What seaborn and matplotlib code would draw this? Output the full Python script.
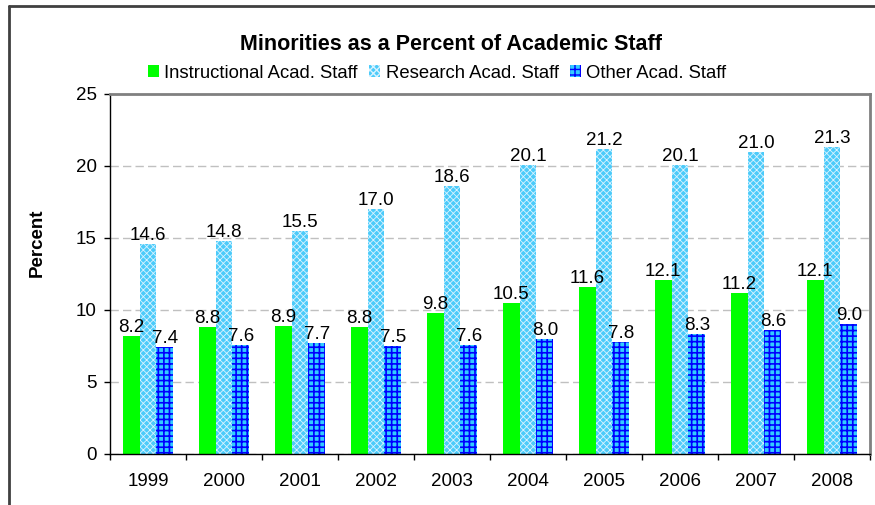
import numpy as np
import pandas as pd
import matplotlib
matplotlib.use("Agg")
import matplotlib.pyplot as plt
from matplotlib.patches import Patch
from matplotlib.lines import Line2D
import seaborn as sns

years = ["1999", "2000", "2001", "2002", "2003", "2004", "2005", "2006", "2007", "2008"]
series_names = ["Instructional Acad. Staff", "Research Acad. Staff", "Other Acad. Staff"]
instructional = [8.2, 8.8, 8.9, 8.8, 9.8, 10.5, 11.6, 12.1, 11.2, 12.1]
research = [14.6, 14.8, 15.5, 17.0, 18.6, 20.1, 21.2, 20.1, 21.0, 21.3]
other = [7.4, 7.6, 7.7, 7.5, 7.6, 8.0, 7.8, 8.3, 8.6, 9.0]
yticks = [0, 5, 10, 15, 20, 25]

sns.set_theme(style="white")
plt.rcParams["font.family"] = ["Liberation Sans", "DejaVu Sans"]
plt.rcParams["text.color"] = "black"
plt.rcParams["axes.labelcolor"] = "black"
plt.rcParams["xtick.color"] = "black"
plt.rcParams["ytick.color"] = "black"

df = pd.DataFrame({
    "Year": years * 3,
    "Series": [series_names[0]] * 10 + [series_names[1]] * 10 + [series_names[2]] * 10,
    "Percent": instructional + research + other,
})

styles = {
    series_names[0]: dict(face="#00FF00", hatch=None, hcolor="#00FF00", hlw=1.0),
    series_names[1]: dict(face="#4CCBFA", hatch="xxxxx", hcolor="#D8F3FF", hlw=0.6),
    series_names[2]: dict(face="#33CCFF", hatch="+++", hcolor="#0000FF", hlw=1.2),
}

fig = plt.figure(figsize=(8.75, 5.05), dpi=100)
ax = fig.add_axes([110 / 875, 1 - 454 / 505, 760 / 875, 360 / 505])

sns.barplot(data=df, x="Year", y="Percent", hue="Series", order=years,
            hue_order=series_names,
            palette={k: v["face"] for k, v in styles.items()},
            width=0.67, gap=0, saturation=1, legend=False, ax=ax, zorder=2)

for cont, name in zip(ax.containers, series_names):
    st = styles[name]
    for bar in cont:
        bar.set_facecolor(st["face"])
        bar.set_linewidth(0)
        if st["hatch"]:
            bar.set_edgecolor(st["hcolor"])
            bar.set_hatch(st["hatch"])
            if hasattr(bar, "set_hatch_linewidth"):
                bar.set_hatch_linewidth(st["hlw"])
    ax.bar_label(cont, fmt="%.1f", padding=0, fontsize=13.5, color="black", zorder=5)

ax.set_ylim(0, 25)
ax.set_xlim(-0.5, 9.5)
ax.set_yticks(yticks)
ax.set_yticklabels([str(v) for v in yticks], fontsize=13.5)
ax.set_xticks(range(len(years)))
ax.set_xticklabels(years, fontsize=13.5)
ax.set_xticks(np.arange(-0.5, 10, 1), minor=True)
ax.tick_params(axis="x", which="major", length=0, pad=14)
ax.tick_params(axis="x", which="minor", length=4.5, width=1, color="black", direction="out", bottom=True)
ax.tick_params(axis="y", which="major", length=4.5, width=1, color="black", direction="out", left=True, pad=5)
ax.set_xlabel("")
ax.set_ylabel("Percent", fontsize=13.5, fontweight="bold", color="black")
ax.yaxis.label.set_verticalalignment("center")
ax.yaxis.set_label_coords(-0.096, 0.586)

ax.set_axisbelow(True)
ax.yaxis.grid(True, linestyle=(0, (6, 3)), color="#C0C0C0", linewidth=1)
ax.xaxis.grid(False)
for side in ["left", "bottom"]:
    ax.spines[side].set_color("black")
    ax.spines[side].set_linewidth(1)
for side in ["top", "right"]:
    ax.spines[side].set_color("#808080")
    ax.spines[side].set_linewidth(2)

fig.text(451 / 875, 1 - 44 / 505, "Minorities as a Percent of Academic Staff",
         ha="center", va="center", fontsize=15.5, fontweight="bold", color="black")

handles = []
for name in series_names:
    st = styles[name]
    p = Patch(facecolor=st["face"], edgecolor=st["hcolor"] if st["hatch"] else st["face"],
              hatch=st["hatch"], linewidth=0)
    handles.append(p)
fig.legend(handles, series_names, loc="center", bbox_to_anchor=(437 / 875, 1 - 73 / 505),
           ncol=3, frameon=False, fontsize=13.3, handlelength=0.6, handleheight=0.6,
           handletextpad=0.3, columnspacing=0.6, borderaxespad=0)

# outer chart border
fig.add_artist(Line2D([9 / 875, 9 / 875], [0, 1 - 6 / 505], transform=fig.transFigure,
                      color="#404040", linewidth=2))
fig.add_artist(Line2D([9 / 875, 1], [1 - 6 / 505, 1 - 6 / 505], transform=fig.transFigure,
                      color="#404040", linewidth=2))

fig.savefig("out.png", dpi=100)
